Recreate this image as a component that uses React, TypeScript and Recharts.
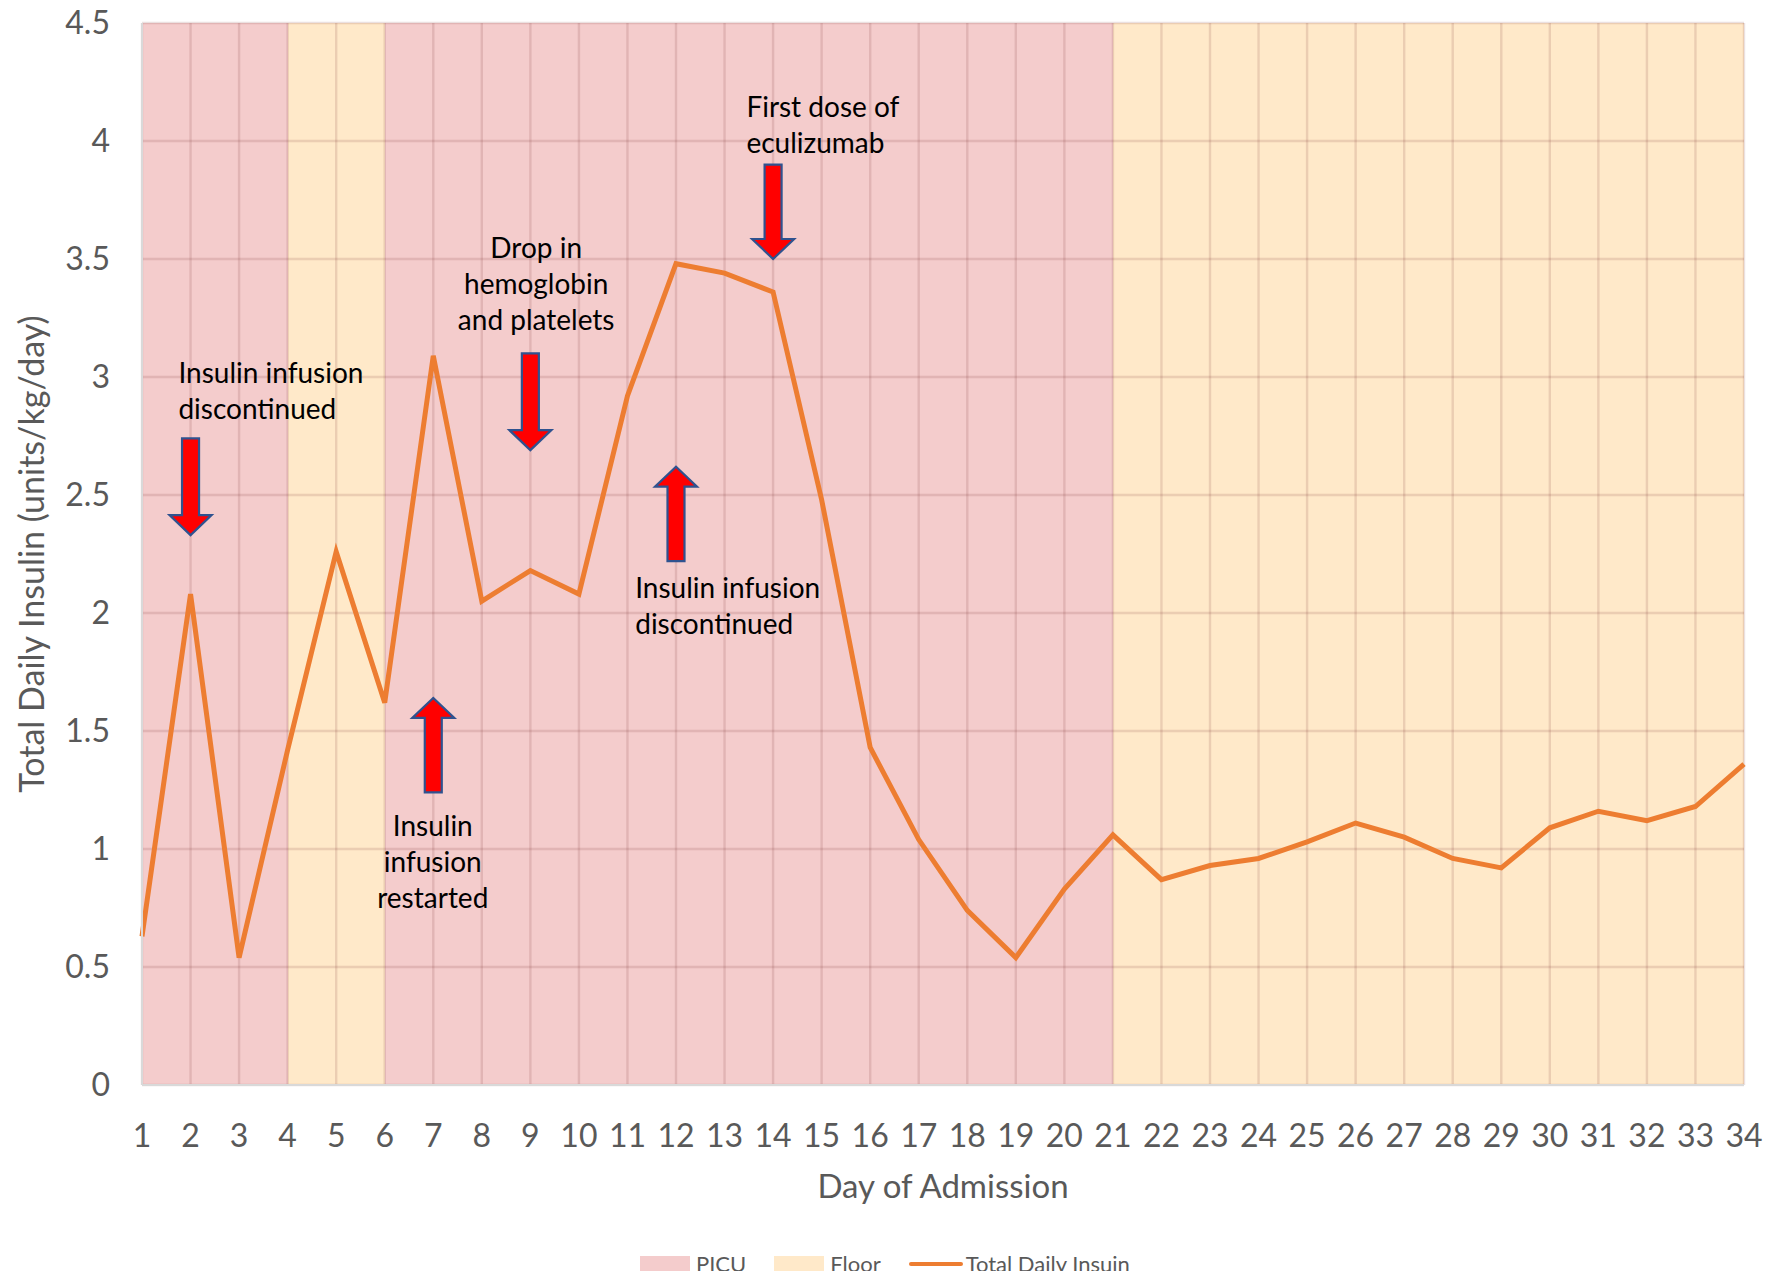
import React from 'react';
import {
  ComposedChart,
  Line,
  XAxis,
  YAxis,
  CartesianGrid,
  ReferenceArea,
  ReferenceDot,
  Label,
} from 'recharts';

// ---------- data ----------
const days = [1, 2, 3, 4, 5, 6, 7, 8, 9, 10, 11, 12, 13, 14, 15, 16, 17, 18, 19, 20, 21, 22, 23, 24, 25, 26, 27, 28, 29, 30, 31, 32, 33, 34];
const totalDailyInsulin = [
  0.63, 2.08, 0.54, 1.42, 2.26, 1.62, 3.09, 2.05, 2.18, 2.08,
  2.92, 3.48, 3.44, 3.36, 2.48, 1.43, 1.04, 0.74, 0.54, 0.83,
  1.06, 0.87, 0.93, 0.96, 1.03, 1.11, 1.05, 0.96, 0.92, 1.09,
  1.16, 1.12, 1.18, 1.36,
];
const yTicks = [0, 0.5, 1, 1.5, 2, 2.5, 3, 3.5, 4, 4.5];

// location segments (day range)
const locationSegments = [
  { unit: 'PICU', from: 1, to: 4 },
  { unit: 'Floor', from: 4, to: 6 },
  { unit: 'PICU', from: 6, to: 21 },
  { unit: 'Floor', from: 21, to: 34 },
];

// arrows: day, value of tail, value of tip
const arrows = [
  { day: 2, tail: 2.74, tip: 2.33 },
  { day: 7, tail: 1.24, tip: 1.64 },
  { day: 9, tail: 3.1, tip: 2.69 },
  { day: 12, tail: 2.22, tip: 2.62 },
  { day: 14, tail: 3.9, tip: 3.5 },
];

// annotations: anchor day, value at first line centre
const annotations = [
  { day: 1.75, value: 3.02, anchor: 'start', lines: ['Insulin infusion', 'discontinued'] },
  { day: 6.99, value: 1.1, anchor: 'middle', lines: ['Insulin', 'infusion', 'restarted'] },
  { day: 9.12, value: 3.55, anchor: 'middle', lines: ['Drop in', 'hemoglobin', 'and platelets'] },
  { day: 11.16, value: 2.11, anchor: 'start', lines: ['Insulin infusion', 'discontinued'] },
  { day: 13.45, value: 4.15, anchor: 'start', lines: ['First dose of', 'eculizumab'] },
];

const legendItems = [
  { name: 'PICU', kind: 'rect', color: '#F4CCCC' },
  { name: 'Floor', kind: 'rect', color: '#FFE9C9' },
  { name: 'Total Daily Insuin', kind: 'line', color: '#ED7D31' },
];

// ---------- styles ----------
const FONT = 'Lato, "Open Sans", sans-serif';
const COLORS: Record<string, string> = { PICU: '#F4CCCC', Floor: '#FFE9C9' };
const AXIS_TEXT = '#595959';

const chartData = days.map((d, i) => ({ day: d, insulin: totalDailyInsulin[i] }));

// one fill per interval between consecutive day gridlines
const stripeFills = days.slice(0, -1).map((d) => {
  const seg = locationSegments.find((s) => d >= s.from && d < s.to);
  return seg ? COLORS[seg.unit] : '#FFFFFF';
});

const ArrowShape = (props: any) => {
  const { x, y, width, height, up } = props;
  const cx = x + width / 2;
  const sw = 8.5;
  const hw = 21;
  const hl = 20;
  const top = y;
  const bot = y + height;
  let d: string;
  if (!up) {
    d = `M${cx - sw},${top} L${cx + sw},${top} L${cx + sw},${bot - hl} L${cx + hw},${bot - hl} L${cx},${bot} L${cx - hw},${bot - hl} L${cx - sw},${bot - hl} Z`;
  } else {
    d = `M${cx - sw},${bot} L${cx + sw},${bot} L${cx + sw},${top + hl} L${cx + hw},${top + hl} L${cx},${top} L${cx - hw},${top + hl} L${cx - sw},${top + hl} Z`;
  }
  return <path d={d} fill="#FF0000" stroke="#2F528F" strokeWidth={2.2} strokeLinejoin="miter" />;
};

const makeTextShape = (lines: string[], anchor: string) => (props: any) => {
  const { cx, cy } = props;
  return (
    <text x={cx} y={cy} textAnchor={anchor as any} fontFamily={FONT} fontSize={28} fill="#000000">
      {lines.map((l, i) => (
        <tspan key={i} x={cx} y={cy + i * 36} dominantBaseline="central">
          {l}
        </tspan>
      ))}
    </text>
  );
};

const YLabel = (props: any) => {
  const vb = props.viewBox;
  const x = vb.x - 12;
  const y = vb.y + vb.height / 2;
  return (
    <text
      x={x}
      y={y}
      transform={`rotate(-90, ${x}, ${y})`}
      textAnchor="middle"
      dominantBaseline="central"
      fontFamily={FONT}
      fontSize={34}
      fill={AXIS_TEXT}
    >
      Total Daily Insulin (units/kg/day)
    </text>
  );
};

const XLabel = (props: any) => {
  const vb = props.viewBox;
  const x = vb.x + vb.width / 2;
  const y = vb.y + 100;
  return (
    <text x={x} y={y} textAnchor="middle" dominantBaseline="central" fontFamily={FONT} fontSize={33} fill={AXIS_TEXT}>
      Day of Admission
    </text>
  );
};

export default function App() {
  return (
    <div style={{ position: 'relative', width: 1766, height: 1271, marginTop: -8 }}>
      <ComposedChart
        width={1766}
        height={1271}
        data={chartData}
        margin={{ top: 23, right: 30, bottom: 0, left: 34 }}
      >
        <CartesianGrid
          verticalFill={stripeFills}
          fillOpacity={1}
          stroke="rgba(122,48,48,0.15)"
          strokeWidth={2.4}
          horizontal
          vertical
        />
        <XAxis
          dataKey="day"
          type="number"
          domain={[1, 34]}
          ticks={days}
          interval={0}
          tickLine={false}
          axisLine={{ stroke: '#D9D9D9', strokeWidth: 2 }}
          tick={{ fontFamily: FONT, fontSize: 32, fill: AXIS_TEXT }}
          tickMargin={33}
          height={186}
        >
          <Label content={<XLabel />} />
        </XAxis>
        <YAxis
          type="number"
          domain={[0, 4.5]}
          ticks={yTicks}
          interval={0}
          tickLine={false}
          axisLine={{ stroke: '#D9D9D9', strokeWidth: 2 }}
          tick={{ fontFamily: FONT, fontSize: 32, fill: AXIS_TEXT }}
          tickMargin={26}
          width={100}
        >
          <Label content={<YLabel />} />
        </YAxis>
        {arrows.map((a, i) => (
          <ReferenceArea
            key={`arrow-${i}`}
            x1={a.day - 0.45}
            x2={a.day + 0.45}
            y1={Math.min(a.tail, a.tip)}
            y2={Math.max(a.tail, a.tip)}
            shape={(p: any) => <ArrowShape {...p} up={a.tip > a.tail} />}
          />
        ))}
        {annotations.map((a, i) => (
          <ReferenceDot
            key={`ann-${i}`}
            x={a.day}
            y={a.value}
            r={0}
            shape={makeTextShape(a.lines, a.anchor)}
          />
        ))}
        <Line
          type="linear"
          dataKey="insulin"
          name="Total Daily Insuin"
          stroke="#ED7D31"
          strokeWidth={5}
          dot={false}
          activeDot={false}
          isAnimationActive={false}
        />
      </ComposedChart>
      <div
        style={{
          position: 'absolute',
          left: 632,
          top: 1250,
          display: 'flex',
          alignItems: 'center',
          fontFamily: FONT,
          fontSize: 22,
          color: AXIS_TEXT,
          whiteSpace: 'nowrap',
        }}
      >
        {legendItems.map((it, i) => (
          <div key={i} style={{ display: 'flex', alignItems: 'center', marginRight: 28 }}>
            {it.kind === 'rect' ? (
              <div style={{ width: 50, height: 15, background: it.color, marginRight: 6 }} />
            ) : (
              <div style={{ width: 54, height: 4, borderRadius: 2, background: it.color, marginRight: 3 }} />
            )}
            <span>{it.name}</span>
          </div>
        ))}
      </div>
    </div>
  );
}
